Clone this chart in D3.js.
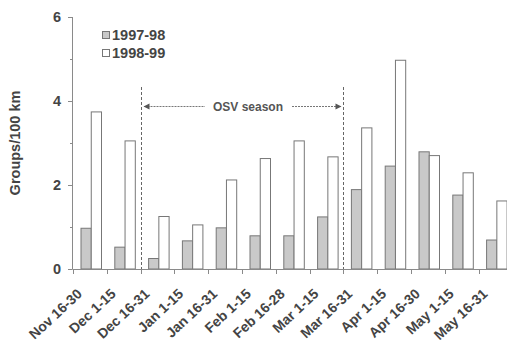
<html>
<head>
<script src="https://cdn.jsdelivr.net/npm/d3@7"></script>
<style>
  body { margin: 0; background: #fff; }
  text { font-family: "Liberation Sans", Arial, sans-serif; font-weight: bold; fill: #444; }
</style>
</head>
<body>
<script>
var categories = ['Nov 16-30', 'Dec 1-15', 'Dec 16-31', 'Jan 1-15', 'Jan 16-31', 'Feb 1-15',
                  'Feb 16-28', 'Mar 1-15', 'Mar 16-31', 'Apr 1-15', 'Apr 16-30', 'May 1-15', 'May 16-31'];
var series = ['1997-98', '1998-99'];
var values9798 = [0.97, 0.52, 0.25, 0.67, 0.98, 0.79, 0.79, 1.24, 1.89, 2.45, 2.79, 1.76, 0.69];
var values9899 = [3.74, 3.05, 1.25, 1.05, 2.12, 2.63, 3.05, 2.67, 3.36, 4.97, 2.70, 2.29, 1.62];
var yTicks = [0, 2, 4, 6];
var yMinor = [1, 3, 5];
var seasonStart = 'Dec 16-31', seasonEnd = 'Mar 16-31';

var colors = { '1997-98': '#c9c9c9', '1998-99': '#ffffff' };

var svg = d3.select('body').append('svg')
            .attr('width', 507).attr('height', 344);

var x = d3.scaleBand().domain(categories).range([73, 73 + 13 * 33.8]);
var x1 = d3.scaleBand().domain(series).range([7.5, 28]);
var y = d3.scaleLinear().domain([0, 6]).range([269, 17]);

var axisColor = '#8a8a8a';

// y axis
svg.append('line').attr('x1', 72.5).attr('x2', 72.5)
   .attr('y1', y(6)).attr('y2', y(0))
   .attr('stroke', axisColor);
svg.selectAll('.ymaj').data(yTicks).enter().append('line')
   .attr('x1', 68).attr('x2', 72.5)
   .attr('y1', function (d) { return Math.round(y(d)) + 0.5; })
   .attr('y2', function (d) { return Math.round(y(d)) + 0.5; })
   .attr('stroke', axisColor);
svg.selectAll('.ymin').data(yMinor).enter().append('line')
   .attr('x1', 70).attr('x2', 72.5)
   .attr('y1', function (d) { return Math.round(y(d)) + 0.5; })
   .attr('y2', function (d) { return Math.round(y(d)) + 0.5; })
   .attr('stroke', axisColor);
svg.selectAll('.ylab').data(yTicks).enter().append('text')
   .attr('x', 61).attr('y', function (d) { return y(d) + 5; })
   .attr('text-anchor', 'end').style('font-size', '14.5px')
   .text(function (d) { return d; });

svg.append('text')
   .attr('transform', 'translate(20,143) rotate(-90)')
   .attr('text-anchor', 'middle').style('font-size', '14.5px')
   .text('Groups/100 km');

// bars
var rows = categories.map(function (c, i) {
    return { cat: c, vals: [{ s: '1997-98', v: values9798[i] }, { s: '1998-99', v: values9899[i] }] };
});
var g = svg.selectAll('.grp').data(rows).enter().append('g')
   .attr('transform', function (d) { return 'translate(' + x(d.cat) + ',0)'; });
g.selectAll('rect').data(function (d) { return d.vals; }).enter().append('rect')
   .attr('x', function (d) { return x1(d.s) + 0.5; })
   .attr('y', function (d) { return y(d.v); })
   .attr('width', x1.bandwidth())
   .attr('height', function (d) { return y(0) - y(d.v); })
   .attr('fill', function (d) { return colors[d.s]; })
   .attr('stroke', '#777').attr('stroke-width', 1);

// x axis
svg.append('line').attr('x1', 72.5).attr('x2', 507)
   .attr('y1', 269.5).attr('y2', 269.5)
   .attr('stroke', axisColor);
svg.selectAll('.xt').data(categories).enter().append('line')
   .attr('x1', function (d) { return Math.round(x(d)) + 0.5; })
   .attr('x2', function (d) { return Math.round(x(d)) + 0.5; })
   .attr('y1', 269.5).attr('y2', 274)
   .attr('stroke', axisColor);
svg.selectAll('.xlab').data(categories).enter().append('text')
   .attr('transform', function (d) {
       return 'translate(' + (x(d) + x.bandwidth() / 2 - 7) + ',295) rotate(-43)';
   })
   .attr('text-anchor', 'end').style('font-size', '14px')
   .text(function (d) { return d; });

// OSV season markers
var xs = Math.round(x(seasonStart)) + 0.5, xe = Math.round(x(seasonEnd)) + 0.5;
[xs, xe].forEach(function (xx) {
    svg.append('line').attr('x1', xx).attr('x2', xx)
       .attr('y1', 87).attr('y2', 269)
       .attr('stroke', '#666').attr('stroke-dasharray', '3,2');
});
var ay = 106.5;
svg.append('line').attr('x1', xs + 3).attr('x2', 205).attr('y1', ay).attr('y2', ay)
   .attr('stroke', '#777').attr('stroke-dasharray', '2,1');
svg.append('path').attr('d', 'M' + (xs + 2) + ',' + ay + 'l6,-3l0,6z').attr('fill', '#555');
svg.append('line').attr('x1', 292).attr('x2', xe - 3).attr('y1', ay).attr('y2', ay)
   .attr('stroke', '#777').attr('stroke-dasharray', '2,1');
svg.append('path').attr('d', 'M' + (xe - 2) + ',' + ay + 'l-6,-3l0,6z').attr('fill', '#555');
svg.append('text').attr('x', 248).attr('y', ay + 4.5)
   .attr('text-anchor', 'middle').style('font-size', '12px').style('fill', '#555')
   .text('OSV season');

// legend
var leg = svg.selectAll('.leg').data(series).enter().append('g')
   .attr('transform', function (d, i) { return 'translate(102,' + (31 + i * 18) + ')'; });
leg.append('rect').attr('x', 0.5).attr('y', 0.5).attr('width', 7).attr('height', 7)
   .attr('fill', function (d) { return colors[d]; })
   .attr('stroke', '#777');
leg.append('text').attr('x', 10).attr('y', 9)
   .style('font-size', '14.5px')
   .text(function (d) { return d; });
</script>
</body>
</html>
